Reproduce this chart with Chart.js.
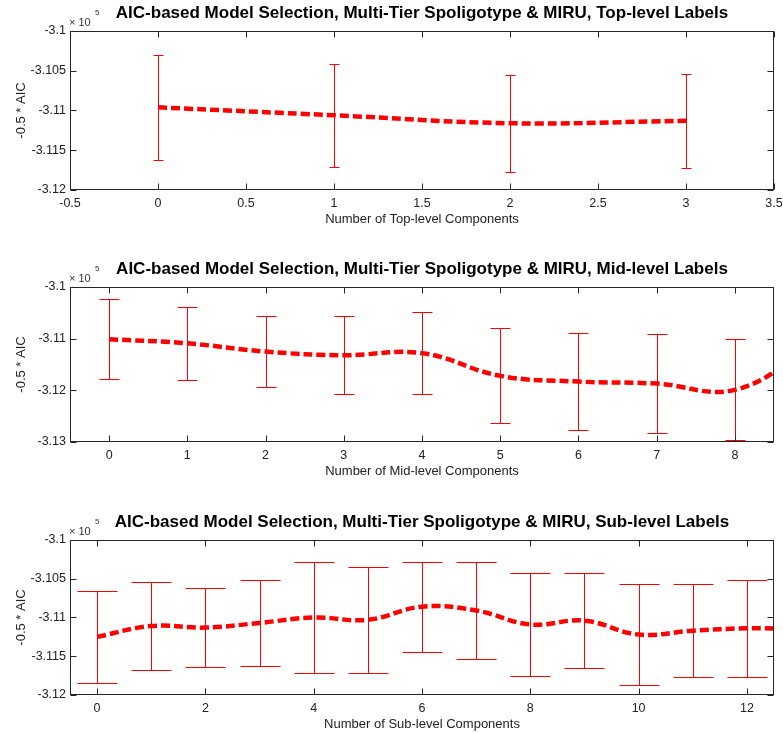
<!DOCTYPE html>
<html lang="en">
<head>
<meta charset="UTF-8" />
<title>AIC-based Model Selection</title>
<script src="https://cdn.jsdelivr.net/npm/chart.js"></script>
<style>
  body { margin: 0; background: #fff; overflow: hidden; }
  .panel { position: absolute; left: 0; width: 783px; }
</style>
</head>
<body>
<div class="panel" style="top:0px;height:228px"><canvas id="topChart"></canvas></div>
<div class="panel" style="top:256px;height:224px"><canvas id="midChart"></canvas></div>
<div class="panel" style="top:509px;height:224px"><canvas id="subChart"></canvas></div>

<script>
// values are in units of 10^5 (as on the axes)
const topX = [0, 1, 2, 3];
const topMean = [-3.1096, -3.1106, -3.1116, -3.1113];
const topErr = [0.0066, 0.0065, 0.0061, 0.0059];
const topXTicks = [-0.5, 0, 0.5, 1, 1.5, 2, 2.5, 3, 3.5];
const topYTicks = [-3.12, -3.115, -3.11, -3.105, -3.1];

const midX = [0, 1, 2, 3, 4, 5, 6, 7, 8, 9];
const midMean = [-3.1101, -3.1109, -3.1125, -3.1132, -3.1128, -3.1172, -3.1183, -3.1187, -3.1199, -3.1115];
const midErr = [0.0077, 0.0071, 0.0068, 0.0075, 0.0079, 0.0092, 0.0094, 0.0096, 0.0098, 0.009];
const midXTicks = [0, 1, 2, 3, 4, 5, 6, 7, 8];
const midYTicks = [-3.13, -3.12, -3.11, -3.1];

const subX = [0, 1, 2, 3, 4, 5, 6, 7, 8, 9, 10, 11, 12, 13];
const subMean = [-3.1125, -3.1111, -3.1113, -3.1107, -3.1100, -3.1103, -3.1086, -3.1091, -3.1109, -3.1104, -3.1122, -3.1117, -3.1114, -3.1115];
const subErr = [0.0059, 0.0057, 0.0051, 0.0056, 0.0072, 0.0068, 0.0058, 0.0063, 0.0066, 0.0061, 0.0065, 0.0060, 0.0063, 0.006];
const subXTicks = [0, 2, 4, 6, 8, 10, 12];
const subYTicks = [-3.12, -3.115, -3.11, -3.105, -3.1];

Chart.defaults.font.family = "'Liberation Sans', Arial, sans-serif";
Chart.defaults.color = "#222";

const fmt = (v) => String(+Number(v).toFixed(4));

// error bars, box, inward ticks and the x10^5 label
function matlabPlugin(xs, means, errs, cap) {
  return {
    id: "matlab",
    beforeDatasetsDraw(chart) {
      const { ctx, chartArea: a, scales } = chart;
      ctx.save();
      ctx.beginPath();
      ctx.rect(a.left, a.top, a.width, a.height);
      ctx.clip();
      ctx.strokeStyle = "#ff0000";
      ctx.lineWidth = 1;
      xs.forEach((xv, i) => {
        const px = Math.round(scales.x.getPixelForValue(xv)) + 0.5;
        const y1 = Math.round(scales.y.getPixelForValue(means[i] + errs[i])) + 0.5;
        const y2 = Math.round(scales.y.getPixelForValue(means[i] - errs[i])) + 0.5;
        ctx.beginPath();
        ctx.moveTo(px, y1); ctx.lineTo(px, y2);
        ctx.moveTo(px - cap, y1); ctx.lineTo(px + cap, y1);
        ctx.moveTo(px - cap, y2); ctx.lineTo(px + cap, y2);
        ctx.stroke();
      });
      ctx.restore();
    },
    afterDraw(chart) {
      const { ctx, chartArea: a, scales } = chart;
      const l = Math.round(a.left) + 0.5, r = Math.round(a.right) - 0.5;
      const t = Math.round(a.top) + 0.5, b = Math.round(a.bottom) - 0.5;
      ctx.save();
      ctx.strokeStyle = "#262626";
      ctx.lineWidth = 1;
      ctx.strokeRect(l, t, r - l, b - t);
      ctx.beginPath();
      scales.x.ticks.forEach((tk) => {
        const px = Math.round(scales.x.getPixelForValue(tk.value)) + 0.5;
        ctx.moveTo(px, b); ctx.lineTo(px, b - 6);
        ctx.moveTo(px, t); ctx.lineTo(px, t + 6);
      });
      scales.y.ticks.forEach((tk) => {
        const py = Math.round(scales.y.getPixelForValue(tk.value)) + 0.5;
        ctx.moveTo(l, py); ctx.lineTo(l + 6, py);
        ctx.moveTo(r, py); ctx.lineTo(r - 6, py);
      });
      ctx.stroke();
      ctx.fillStyle = "#333";
      ctx.textBaseline = "alphabetic";
      ctx.font = "11px 'Liberation Sans', Arial, sans-serif";
      ctx.fillText("\u00d7 10", a.left - 1, a.top - 5);
      ctx.font = "8px 'Liberation Sans', Arial, sans-serif";
      ctx.fillText("5", a.left + 25, a.top - 16);
      ctx.restore();
    }
  };
}

function makeChart(id, xs, means, errs, xTicks, yTicks, xMin, xMax, title, xLabel, cap) {
  new Chart(document.getElementById(id), {
    type: "line",
    data: {
      datasets: [{
        data: xs.map((x, i) => ({ x: x, y: means[i] })),
        borderColor: "#ff0000",
        borderWidth: 4.5,
        borderDash: [9, 4],
        pointRadius: 0,
        tension: 0.4,
        fill: false,
        clip: 0
      }]
    },
    options: {
      responsive: true,
      maintainAspectRatio: false,
      animation: false,
      layout: { padding: { left: 0, right: 9, top: 0, bottom: 0 } },
      plugins: {
        legend: { display: false },
        tooltip: { enabled: false },
        title: {
          display: true,
          text: title,
          fullSize: false,
          color: "#000",
          font: { size: 17, weight: "bold" },
          padding: { top: 3, bottom: 7.6 }
        }
      },
      scales: {
        x: {
          type: "linear",
          min: xMin,
          max: xMax,
          afterBuildTicks: (s) => { s.ticks = xTicks.map((v) => ({ value: v })); },
          afterFit: (s) => { s.height = 38; s.paddingLeft = 0; s.paddingRight = 0; },
          grid: { display: false, drawTicks: false },
          border: { display: false },
          ticks: { padding: 6, font: { size: 12.5 }, maxRotation: 0, callback: fmt },
          title: { display: true, text: xLabel, font: { size: 13 }, padding: { top: 0, bottom: 1.2 } }
        },
        y: {
          min: yTicks[0],
          max: yTicks[yTicks.length - 1],
          afterBuildTicks: (s) => { s.ticks = yTicks.map((v) => ({ value: v })); },
          afterFit: (s) => { s.width = 70; s.paddingTop = 0; s.paddingBottom = 0; },
          grid: { display: false, drawTicks: false },
          border: { display: false },
          ticks: { padding: 4, font: { size: 12.5 }, callback: fmt },
          title: { display: true, text: "-0.5 * AIC", font: { size: 13 }, padding: { top: 14, bottom: 0 } }
        }
      }
    },
    plugins: [matlabPlugin(xs, means, errs, cap)]
  });
}

makeChart("topChart", topX, topMean, topErr, topXTicks, topYTicks, -0.5, 3.5,
  "AIC-based Model Selection, Multi-Tier Spoligotype & MIRU, Top-level Labels",
  "Number of Top-level Components", 5);
makeChart("midChart", midX, midMean, midErr, midXTicks, midYTicks, -0.5, 8.5,
  "AIC-based Model Selection, Multi-Tier Spoligotype & MIRU, Mid-level Labels",
  "Number of Mid-level Components", 10);
makeChart("subChart", subX, subMean, subErr, subXTicks, subYTicks, -0.5, 12.5,
  "AIC-based Model Selection, Multi-Tier Spoligotype & MIRU, Sub-level Labels",
  "Number of Sub-level Components", 20);
</script>
</body>
</html>
